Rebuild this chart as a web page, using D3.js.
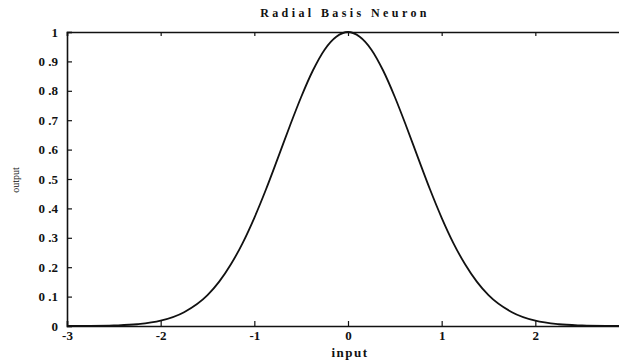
<!DOCTYPE html>
<html>
<head>
<meta charset="utf-8">
<script src="https://cdn.jsdelivr.net/npm/d3@7"></script>
<style>
  body { margin: 0; background: #fff; }
  svg { display: block; }
  text { font-family: "Liberation Serif", "DejaVu Serif", serif; fill: #111; }
</style>
</head>
<body>
<div id="chart"></div>
<script>
// curve (radial basis response)
const inputs  = [-3, -2.75, -2.5, -2.25, -2, -1.75, -1.5, -1.375, -1.25, -1.125, -1, -0.875, -0.75, -0.625,
                 -0.5, -0.375, -0.25, -0.125, 0, 0.125, 0.25, 0.375, 0.5, 0.625, 0.75, 0.875, 1,
                 1.125, 1.25, 1.375, 1.5, 1.75, 2, 2.25, 2.5, 2.75, 3];
const outputs = [0.0001, 0.0005, 0.002, 0.006, 0.018, 0.047, 0.105, 0.151, 0.21, 0.282, 0.368, 0.465, 0.57, 0.677,
                 0.779, 0.869, 0.94, 0.984, 1, 0.984, 0.94, 0.869, 0.779, 0.677, 0.57, 0.465, 0.368,
                 0.282, 0.21, 0.151, 0.105, 0.047, 0.018, 0.006, 0.002, 0.0005, 0.0001];
const xTicks = [-3, -2, -1, 0, 1, 2];
const xTickLabels = ['-3', '-2', '-1', '0', '1', '2'];
const yTicks = [0, 0.1, 0.2, 0.3, 0.4, 0.5, 0.6, 0.7, 0.8, 0.9, 1];
const yTickLabels = ['0', '0 .1', '0 .2', '0 .3', '0 .4', '0 .5', '0 .6', '0 .7', '0 .8', '0 .9', '1'];

const width = 619, height = 362;
const plotLeft = 67, plotTop = 32, plotBottom = 326;

const svg = d3.select('#chart').append('svg')
  .attr('width', width)
  .attr('height', height);

const x = d3.scaleLinear().domain([-3, 3]).range([plotLeft, 629]);
const y = d3.scaleLinear().domain([0, 1]).range([plotBottom, plotTop]);

// title
svg.append('text')
  .attr('x', 345).attr('y', 17)
  .attr('text-anchor', 'middle')
  .attr('font-size', 12).attr('font-weight', 'bold')
  .attr('letter-spacing', 3.4)
  .text('Radial Basis Neuron');

// axes
const xAxisB = d3.axisBottom(x).tickValues(xTicks).tickSize(-5).tickPadding(5)
  .tickFormat((d, i) => xTickLabels[i]);
const xAxisT = d3.axisTop(x).tickValues(xTicks).tickSize(-4).tickFormat('');
const yAxisL = d3.axisLeft(y).tickValues(yTicks).tickSize(-5).tickPadding(9)
  .tickFormat((d, i) => yTickLabels[i]);

function style(g) {
  g.select('.domain').attr('stroke', '#111').attr('stroke-width', 1.6);
  g.selectAll('.tick line').attr('stroke', '#111').attr('stroke-width', 1.2);
  g.selectAll('.tick text')
    .attr('font-family', '"Liberation Serif", serif')
    .attr('font-size', 13).attr('font-weight', 'bold').attr('fill', '#111');
}

svg.append('g').attr('transform', `translate(0,${plotBottom})`).call(xAxisB).call(style);
svg.append('g').attr('transform', `translate(0,${plotTop})`).call(xAxisT).call(style);
svg.append('g').attr('transform', `translate(${plotLeft},0)`).call(yAxisL).call(style);

// curve
const line = d3.line()
  .x((d, i) => x(inputs[i]))
  .y(d => y(d))
  .curve(d3.curveMonotoneX);

svg.append('path')
  .datum(outputs)
  .attr('fill', 'none')
  .attr('stroke', '#111')
  .attr('stroke-width', 1.8)
  .attr('d', line);

// axis labels
svg.append('text')
  .attr('x', 350).attr('y', 357)
  .attr('text-anchor', 'middle')
  .attr('font-size', 13).attr('font-weight', 'bold')
  .attr('letter-spacing', 1.5)
  .text('input');

svg.append('text')
  .attr('transform', 'translate(19,180) rotate(-90)')
  .attr('text-anchor', 'middle')
  .attr('font-size', 10)
  .text('output');
</script>
</body>
</html>
